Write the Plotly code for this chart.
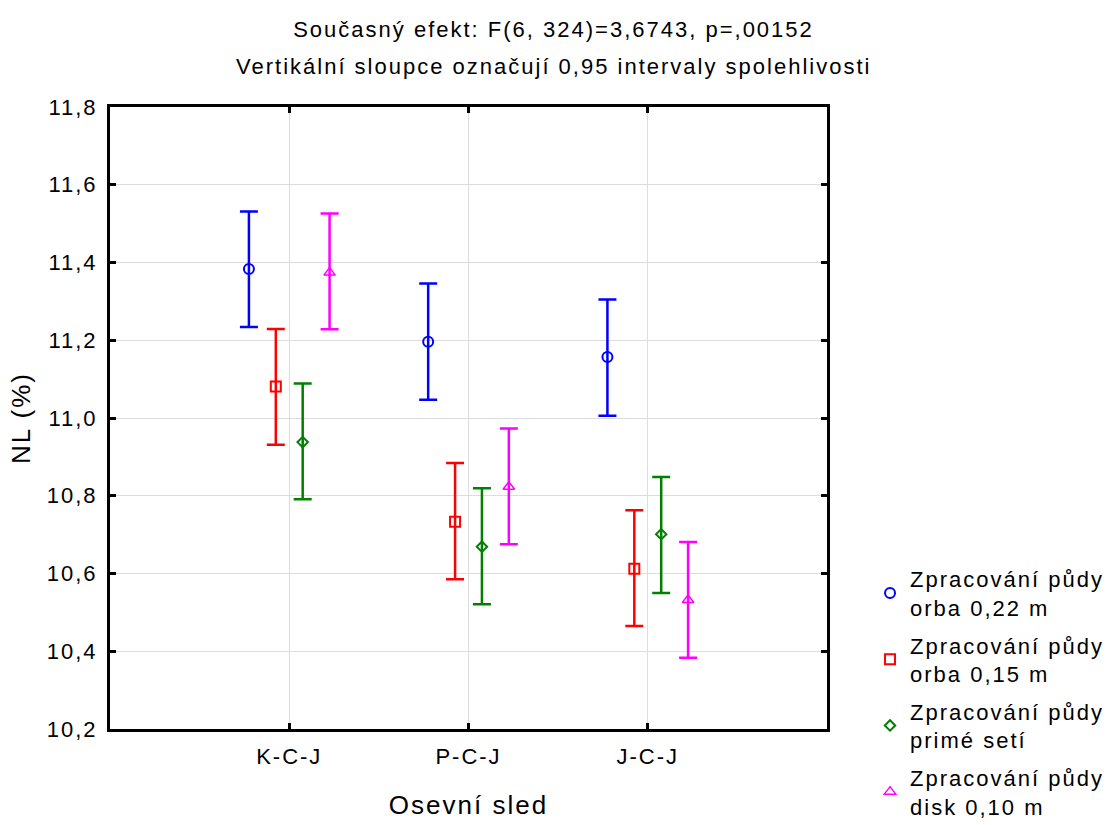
import plotly.graph_objects as go

# ---- data ----
categories = ["K-C-J", "P-C-J", "J-C-J"]
series_names = [
    ["Zpracování půdy", "orba 0,22 m"],
    ["Zpracování půdy", "orba 0,15 m"],
    ["Zpracování půdy", "primé setí"],
    ["Zpracování půdy", "disk 0,10 m"],
]
mean_orba22 = [11.383, 11.196, 11.157]
upper_orba22 = [11.531, 11.346, 11.305]
lower_orba22 = [11.234, 11.047, 11.006]

mean_orba15 = [11.081, 10.733, 10.612]
upper_orba15 = [11.229, 10.884, 10.763]
lower_orba15 = [10.931, 10.585, 10.465]

mean_prime = [10.938, 10.669, 10.701]
upper_prime = [11.089, 10.819, 10.848]
lower_prime = [10.791, 10.521, 10.550]

mean_disk = [11.374, 10.823, 10.532]
upper_disk = [11.526, 10.973, 10.681]
lower_disk = [11.228, 10.675, 10.383]

y_ticks = [10.2, 10.4, 10.6, 10.8, 11.0, 11.2, 11.4, 11.6, 11.8]

title_line1 = "Současný efekt: F(6, 324)=3,6743, p=,00152"
title_line2 = "Vertikální sloupce označují 0,95 intervaly spolehlivosti"
x_title = "Osevní sled"
y_title = "NL (%)"

# ---- styling ----
FONT = "Liberation Sans, Arial, sans-serif"
FS = 22
LS = 2


def sp(t, ls=LS):
    return f'<span style="letter-spacing:{ls}px">{t}</span>'


colors = ["#0000FF", "#FF0000", "#008000", "#FF00FF"]
symbols = ["circle-open", "square-open", "diamond-open", "triangle-up-open"]
sizes = [10, 10, 8, 10]
mlw = [2, 2, 2, 1.5]

all_series = [
    (mean_orba22, upper_orba22, lower_orba22),
    (mean_orba15, upper_orba15, lower_orba15),
    (mean_prime, upper_prime, lower_prime),
    (mean_disk, upper_disk, lower_disk),
]

fig = go.Figure()
for i, (m, up, lo) in enumerate(all_series):
    plus = [u - v for u, v in zip(up, m)]
    minus = [v - l for v, l in zip(m, lo)]
    fig.add_trace(go.Scatter(
        x=categories, y=m, mode="markers",
        name="<br>".join(sp(s) for s in series_names[i]),
        legendgroup=f"g{i}",
        offsetgroup=f"g{i}",
        marker=dict(symbol=symbols[i], size=sizes[i], color=colors[i],
                    line=dict(width=mlw[i], color=colors[i])),
        error_y=dict(type="data", symmetric=False, array=plus, arrayminus=minus,
                     color=colors[i], thickness=2.5, width=9),
    ))

fig.update_layout(
    width=1107, height=825,
    paper_bgcolor="white", plot_bgcolor="white",
    font=dict(family=FONT, size=FS, color="black"),
    margin=dict(l=110, r=280, t=107, b=96, autoexpand=False),
    scattermode="group", scattergap=0.4,
    showlegend=True,
    legend=dict(x=1.06, xanchor="left", y=0.275, yanchor="top",
                font=dict(size=FS), tracegroupgap=6, itemwidth=30,
                bgcolor="rgba(0,0,0,0)"),
    title=dict(text=sp(title_line1), x=0.5, xref="container", xanchor="center",
               y=1 - 29 / 825, yanchor="middle", font=dict(size=FS)),
    annotations=[dict(text=sp(title_line2), xref="paper", yref="paper",
                      x=(553.5 - 110) / 717, y=(729 - 67) / 622,
                      xanchor="center", yanchor="middle", showarrow=False,
                      font=dict(size=FS))],
)

fig.update_xaxes(
    type="category", range=[-1, 3], automargin=False,
    showline=True, linecolor="black", linewidth=3, mirror="ticks",
    ticks="inside", ticklen=6, tickwidth=2.5, tickcolor="black",
    showgrid=True, gridcolor="#dcdcdc", gridwidth=1,
    tickvals=categories, ticktext=[sp(c) for c in categories],
    ticklabelstandoff=6,
    title=dict(text=sp(x_title), standoff=28),
    zeroline=False,
)
fig.update_yaxes(
    range=[10.2, 11.8], automargin=False,
    showline=True, linecolor="black", linewidth=3, mirror="ticks",
    ticks="inside", ticklen=6, tickwidth=2.5, tickcolor="black",
    showgrid=True, gridcolor="#dcdcdc", gridwidth=1,
    tickvals=y_ticks, ticktext=[sp(f"{v:.1f}".replace(".", ",")) for v in y_ticks],
    ticklabelstandoff=5,
    title=dict(text=sp(y_title), standoff=9),
    zeroline=False,
)

fig.write_html(
    "out.html",
    config={"displayModeBar": False},
    post_script="document.body.style.margin='0';document.body.style.overflow='hidden';",
)
